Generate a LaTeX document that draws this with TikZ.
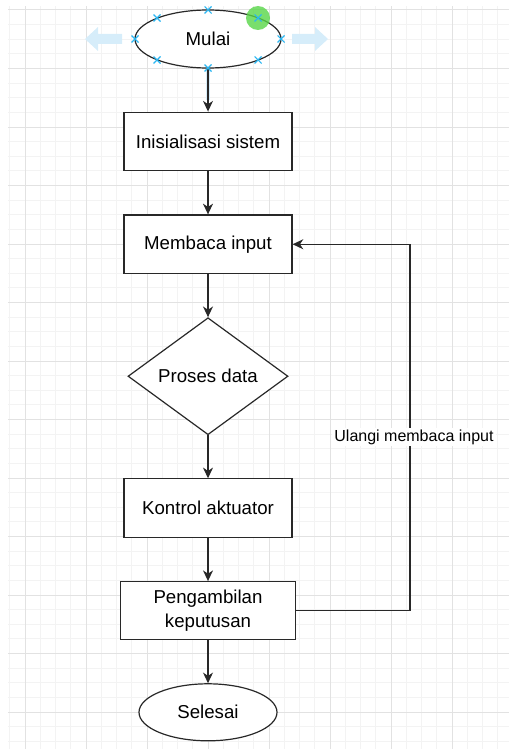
\documentclass[tikz,border=0pt]{standalone}
\usepackage{fontspec}
\setmainfont{Liberation Sans}
\usetikzlibrary{shapes.geometric, arrows.meta, positioning, calc}
\definecolor{gridmaj}{RGB}{226,226,226}
\definecolor{gridmin}{RGB}{243,243,243}
\definecolor{handleblue}{RGB}{41,182,242}
\definecolor{hintblue}{RGB}{214,237,250}
\definecolor{rotgreen}{RGB}{88,214,72}
\definecolor{edgegray}{RGB}{40,40,40}

\begin{document}
\begin{tikzpicture}[
  x=0.75pt, y=-0.75pt,
  node distance=32.2pt,
  every node/.style={font=\fontsize{14}{18}\selectfont},
  terminal/.style={ellipse, draw=edgegray, line width=0.9pt, fill=white, inner sep=0pt},
  process/.style={rectangle, draw=edgegray, line width=0.9pt, fill=white,
                  minimum width=126pt, minimum height=44pt, align=center, inner sep=0pt},
  decision/.style={diamond, draw=edgegray, line width=0.9pt, fill=white, aspect=1.37,
                   minimum width=120pt, minimum height=87.75pt, inner sep=0pt},
  arr/.style={-{Stealth[length=8pt, width=7.5pt, inset=2.5pt]}, line width=0.9pt, edgegray},
  lbl/.style={fill=white, inner sep=1.5pt, font=\fontsize{12}{14}\selectfont},
  handle/.style={handleblue, line width=0.8pt},
  hint/.style={fill=hintblue, draw=none}
]
  \useasboundingbox (0,0) rectangle (509,749);

  % grid
  \begin{scope}[shift={(25,10)}]
    \clip (-17,739) rectangle (484,-4);
    \draw[gridmin, line width=0.75pt, xstep=11.4375pt, ystep=10.96875pt] (-17,739) grid (484,-4);
    \draw[gridmaj, line width=0.75pt, xstep=45.75pt, ystep=43.875pt] (-17,739) grid (484,-4);
  \end{scope}

  % hover hints round the start
  \fill[hint] (85,39) -- (98,27) -- (98,34) -- (122,34) -- (122,44) -- (98,44) -- (98,51) -- cycle;
  \fill[hint] (328,39) -- (315,27) -- (315,34) -- (292,34) -- (292,44) -- (315,44) -- (315,51) -- cycle;
  \draw[hintblue, line width=3.5pt] (208,68) -- (208,100);

  \node[terminal, minimum width=109.5pt, minimum height=43.5pt] (mulai) at (208,39) {Mulai};
  \node[process, below=of mulai] (init) {Inisialisasi sistem};
  \node[process, below=of init] (baca) {Membaca input};
  \node[decision, below=of baca] (proses) {Proses data};
  \node[process, below=of proses] (kontrol) {Kontrol aktuator};
  \node[process, below=of kontrol, minimum width=131pt, minimum height=43.5pt] (putus) {Pengambilan\\keputusan};
  \node[terminal, below=of putus, minimum width=103.5pt, minimum height=42.75pt] (selesai) {Selesai};

  \draw[arr] (mulai) -- (init);
  \draw[arr] (init) -- (baca);
  \draw[arr] (baca) -- (proses);
  \draw[arr] (proses) -- (kontrol);
  \draw[arr] (kontrol) -- (putus);
  \draw[arr] (putus) -- (selesai);

  % loop back
  \coordinate (back) at (410,437);
  \draw[arr] (putus.east) -| (back) |- (baca.east);
  \node[lbl, xshift=3pt] at (back) {Ulangi membaca input};

  % selection handles
  \fill[rotgreen, opacity=0.8] (258,18) circle[radius=12];
  \foreach \hx/\hy in {208/10, 135/39, 281/39, 208/68, 157/18, 258/18, 157/60, 258/60}
    \draw[handle] (\hx,\hy) +(-3.5,-3.5) -- +(3.5,3.5) +(-3.5,3.5) -- +(3.5,-3.5);
\end{tikzpicture}
\end{document}
